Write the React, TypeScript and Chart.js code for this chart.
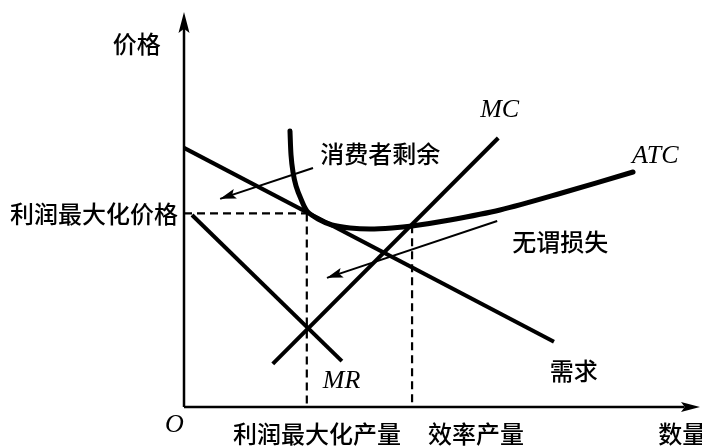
import React, { useEffect, useRef } from "react";
import { Chart, registerables } from "chart.js";

Chart.register(...registerables);

// ---- data (quantity on x, price on y; axis range 0..100) ----
const demandQ = [0, 71.7];
const demandP = [65.6, 16.5];
const mrQ = [1.55, 30.6];
const mrP = [48.6, 11.6];
const mcQ = [17.2, 60.9];
const mcP = [10.9, 68.1];
const atcQ = [20.54, 20.74, 21.12, 21.71, 22.67, 23.84, 25.97, 28.68, 32.17, 36.05, 40.31, 44.19, 51.55, 61.24, 72.87, 87.02];
const atcP = [69.87, 63.8, 59.49, 55.95, 52.66, 49.62, 47.59, 46.08, 45.32, 45.06, 45.32, 45.82, 47.34, 49.87, 54.05, 59.49];
const profitMaxQ = 23.8;
const profitMaxP = 49.0;
const efficientQ = 44.2;
const efficientP = 46.0;
const csArrowQ = [25.0, 7.0];
const csArrowP = [60.5, 52.7];
const dwlArrowQ = [60.7, 27.7];
const dwlArrowP = [47.1, 32.7];
const axisMax = 100;

// ---- text labels ----
const cjkLabels = ["价格", "利润最大化价格", "利润最大化产量", "效率产量", "数量", "消费者剩余", "无谓损失", "需求"];
const latinLabels = ["MC", "ATC", "MR", "O"];

// label anchors (layout, in axis units)
const cjkAnchors: [number, number][] = [
  [-13.8, 91.9],
  [-33.7, 49.0],
  [9.5, -6.8],
  [47.3, -6.8],
  [91.9, -6.8],
  [26.4, 64.1],
  [63.6, 41.8],
  [70.9, 9.1],
];
const latinAnchors: [number, number][] = [
  [57.4, 73.4],
  [86.8, 61.8],
  [26.9, 4.8],
  [-3.7, -6.3],
];

const zip = (xs: number[], ys: number[]) => xs.map((x, i) => ({ x, y: ys[i] }));

const CJK_FONT = "500 24px 'Noto Sans CJK SC', 'Noto Sans', sans-serif";
const LATIN_FONT = "italic 26px 'Liberation Serif', 'DejaVu Serif', serif";

const overlayPlugin = {
  id: "overlay",
  afterDatasetsDraw(chart: any) {
    const ctx = chart.ctx;
    const xs = chart.scales.x;
    const ys = chart.scales.y;
    const px = (v: number) => xs.getPixelForValue(v);
    const py = (v: number) => ys.getPixelForValue(v);
    ctx.save();
    ctx.fillStyle = "#000";

    const head = (tx: number, ty: number, fx: number, fy: number, len: number, half: number) => {
      const ang = Math.atan2(ty - fy, tx - fx);
      ctx.beginPath();
      ctx.moveTo(tx, ty);
      ctx.lineTo(tx - len * Math.cos(ang) + half * Math.sin(ang), ty - len * Math.sin(ang) - half * Math.cos(ang));
      ctx.lineTo(tx - len * 0.8 * Math.cos(ang), ty - len * 0.8 * Math.sin(ang));
      ctx.lineTo(tx - len * Math.cos(ang) - half * Math.sin(ang), ty - len * Math.sin(ang) + half * Math.cos(ang));
      ctx.closePath();
      ctx.fill();
    };

    // axis arrowheads
    head(px(0), py(axisMax), px(0), py(0), 21, 5.5);
    head(px(axisMax), py(0), px(0), py(0), 19, 5);
    // annotation arrowheads
    head(px(csArrowQ[1]), py(csArrowP[1]), px(csArrowQ[0]), py(csArrowP[0]), 16, 5);
    head(px(dwlArrowQ[1]), py(dwlArrowP[1]), px(dwlArrowQ[0]), py(dwlArrowP[0]), 16, 5);

    ctx.textAlign = "left";
    ctx.textBaseline = "middle";
    ctx.font = CJK_FONT;
    cjkLabels.forEach((t, i) => {
      ctx.fillText(t, px(cjkAnchors[i][0]), py(cjkAnchors[i][1]));
    });
    ctx.textBaseline = "alphabetic";
    ctx.font = LATIN_FONT;
    latinLabels.forEach((t, i) => {
      ctx.fillText(t, px(latinAnchors[i][0]), py(latinAnchors[i][1]));
    });
    ctx.restore();
  },
};

export default function App() {
  const ref = useRef<HTMLCanvasElement | null>(null);
  useEffect(() => {
    document.body.style.margin = "0";
    if (!ref.current) return;
    const line = (data: any[], width: number, extra: any = {}) => ({
      data,
      showLine: true,
      borderColor: "#000",
      backgroundColor: "#000",
      borderWidth: width,
      pointRadius: 0,
      pointHoverRadius: 0,
      fill: false,
      clip: false,
      borderCapStyle: "butt",
      ...extra,
    });
    const chart = new Chart(ref.current, {
      type: "scatter",
      data: {
        datasets: [
          line(zip([0, 0], [0, axisMax - 3]), 2.5),
          line(zip([0, axisMax - 3], [0, 0]), 2.5),
          line(zip([0, profitMaxQ], [profitMaxP, profitMaxP]), 2.2, { borderDash: [8, 5] }),
          line(zip([profitMaxQ, profitMaxQ], [profitMaxP, 0]), 2.2, { borderDash: [8, 5] }),
          line(zip([efficientQ, efficientQ], [efficientP, 0]), 2.2, { borderDash: [8, 5] }),
          line(zip(demandQ, demandP), 4),
          line(zip(mrQ, mrP), 4),
          line(zip(mcQ, mcP), 4),
          line(zip(atcQ, atcP), 5, { tension: 0.3, borderCapStyle: "round", borderJoinStyle: "round" }),
          line(zip(csArrowQ, csArrowP), 2),
          line(zip(dwlArrowQ, dwlArrowP), 2),
        ],
      },
      options: {
        animation: false,
        responsive: false,
        maintainAspectRatio: false,
        events: [],
        layout: { padding: { left: 184, top: 12, right: 2, bottom: 41 } },
        plugins: { legend: { display: false }, tooltip: { enabled: false } },
        scales: {
          x: { type: "linear", min: 0, max: axisMax, display: false },
          y: { type: "linear", min: 0, max: axisMax, display: false },
        },
      },
      plugins: [overlayPlugin],
    } as any);
    return () => chart.destroy();
  }, []);
  return (
    <div style={{ position: "fixed", left: 0, top: 0, width: 702, height: 448, background: "#fff" }}>
      <canvas ref={ref} width={702} height={448} style={{ width: 702, height: 448, display: "block" }} />
    </div>
  );
}
